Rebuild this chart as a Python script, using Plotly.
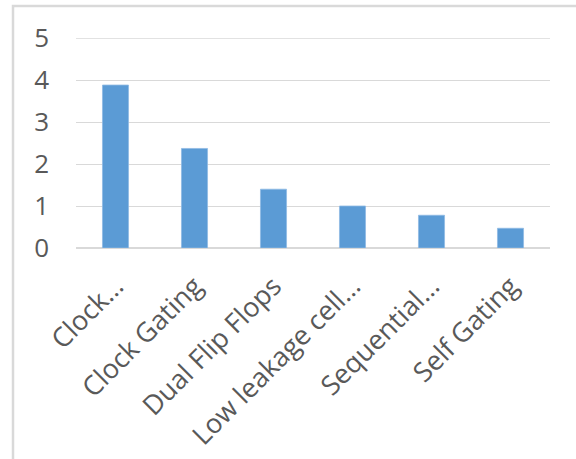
import plotly.graph_objects as go

categories = ["Clock…", "Clock Gating", "Dual Flip Flops", "Low leakage cell…", "Sequential…", "Self Gating"]
values = [3.88, 2.37, 1.4, 1.0, 0.78, 0.47]
y_ticks = [0, 1, 2, 3, 4, 5]

W, H = 576, 459
L, R, T, B = 76, 26, 38, 211

fig = go.Figure(go.Bar(
    x=categories, y=values,
    marker=dict(color="#5b9bd5", line=dict(color="#8fbae3", width=0.8)),
))

pw = W - L - R
ph = H - T - B
fig.add_shape(type="rect", xref="paper", yref="paper",
              x0=(13 - L) / pw, x1=(W + 10 - L) / pw,
              y0=-(H + 10 - T - ph) / ph, y1=1 + (T - 6) / ph,
              line=dict(color="#d9d9d9", width=2.5), fillcolor="rgba(0,0,0,0)", layer="below")
fig.add_hline(y=y_ticks[-1], line=dict(color="#d9d9d9", width=1.5), layer="below")

fig.update_layout(
    width=W, height=H,
    margin=dict(l=L, r=R, t=T, b=B),
    paper_bgcolor="white", plot_bgcolor="white",
    bargap=0.67,
    showlegend=False,
    font=dict(family="Open Sans", color="#595959"),
    xaxis=dict(tickangle=-45, tickfont=dict(size=27, color="#595959"), automargin=False,
               showgrid=False, showline=False, ticks="", ticklabelstandoff=16),
    yaxis=dict(range=[0, 5], tickvals=y_ticks, showgrid=True, gridcolor="#d9d9d9", gridwidth=1,
               automargin=False,
               zeroline=True, zerolinecolor="#d9d9d9", zerolinewidth=1.5,
               tickfont=dict(size=26, color="#595959"), ticklabelstandoff=26, showline=False),
)

fig.write_html("out.html")
